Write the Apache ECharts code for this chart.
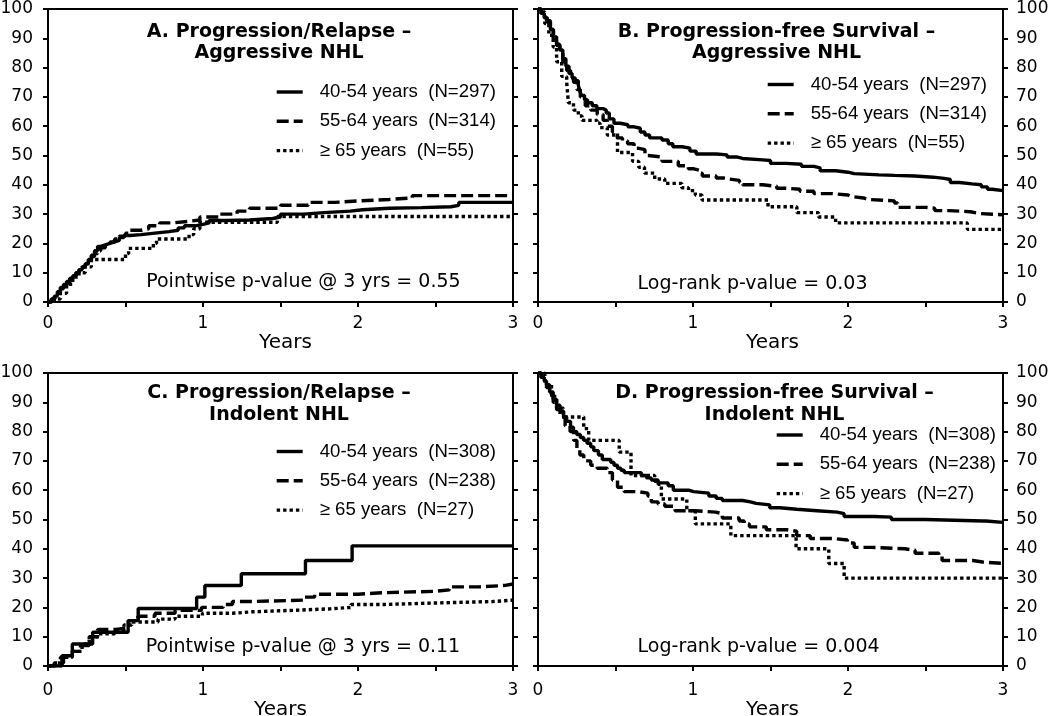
<!DOCTYPE html>
<html>
<head>
<meta charset="utf-8">
<script src="https://cdn.jsdelivr.net/npm/echarts@6/dist/echarts.min.js"></script>
<style>
html,body{margin:0;padding:0;background:#fff;}
#chart{width:1050px;height:716px;}
</style>
</head>
<body>
<div id="chart"></div>
<script>
// ---------- DATA (years, percent) ----------
const aggLabels = ['40-54 years  (N=297)', '55-64 years  (N=314)', '\u2265 65 years  (N=55)'];
const indLabels = ['40-54 years  (N=308)', '55-64 years  (N=238)', '\u2265 65 years  (N=27)'];
const panelTitles = ['A. Progression/Relapse \u2013\nAggressive NHL', 'B. Progression-free Survival \u2013\nAggressive NHL',
                     'C. Progression/Relapse \u2013\nIndolent NHL', 'D. Progression-free Survival \u2013\nIndolent NHL'];
const pValueTexts = ['Pointwise p-value @ 3 yrs = 0.55', 'Log-rank p-value = 0.03',
                     'Pointwise p-value @ 3 yrs = 0.11', 'Log-rank p-value = 0.004'];
const xTicks = [0, 1, 2, 3];

// A. Progression/Relapse - Aggressive NHL
const aggRelapse4054 = [[0,0],[0.02,1],[0.04,2],[0.06,3.5],[0.08,5],[0.10,6],[0.12,7],[0.14,8],[0.16,9],[0.18,10],[0.20,11],[0.22,12],[0.24,13],[0.26,14.5],[0.28,16],[0.30,17.5],[0.32,19],[0.34,19.5],[0.37,20],[0.40,20.5],[0.43,21],[0.46,22],[0.49,22.7],[0.53,23],[0.60,23.5],[0.69,24],[0.78,24.5],[0.84,25.3],[0.88,26],[0.95,26.5],[1.00,27],[1.04,27.8],[1.15,28],[1.30,28.5],[1.45,29],[1.50,30],[1.65,30.5],[1.78,31],[1.95,31.5],[2.03,32],[2.20,32.2],[2.41,32.5],[2.60,33],[2.65,34],[3,34]];
const aggRelapse5564 = [[0,0],[0.02,0.5],[0.04,1.5],[0.06,3],[0.08,4.5],[0.10,5.5],[0.12,6.5],[0.14,8],[0.16,9],[0.18,10],[0.20,11],[0.22,12],[0.24,13],[0.26,14],[0.28,15.5],[0.30,16.5],[0.32,17.5],[0.34,18.5],[0.37,19.5],[0.40,20.5],[0.43,21.5],[0.46,22.5],[0.50,23.5],[0.53,24.5],[0.60,25],[0.65,26],[0.72,27],[0.80,27.5],[0.90,28],[0.98,29],[1.10,30],[1.22,31],[1.30,32],[1.50,33],[1.68,34],[1.85,34.5],[2.00,35],[2.20,35.5],[2.35,36.3],[3,36.3]];
const aggRelapse65 = [[0,0],[0.04,1],[0.08,3],[0.12,6],[0.16,8.5],[0.20,10],[0.24,12],[0.28,14.5],[0.50,16.5],[0.52,18.3],[0.68,20],[0.70,21.5],[0.91,23],[0.94,25],[0.98,27.2],[1.48,29.2],[3,29.2]];

// B. Progression-free Survival - Aggressive NHL
const aggPFS4054 = [[0,100],[0.02,98.5],[0.04,97],[0.06,95.5],[0.08,93],[0.10,90.5],[0.12,88],[0.14,86],[0.16,83],[0.18,80.5],[0.20,78],[0.22,76.5],[0.24,75.5],[0.26,74],[0.27,72],[0.28,70.5],[0.30,69],[0.32,68],[0.35,67],[0.38,66],[0.42,65.5],[0.44,64.5],[0.46,62.5],[0.49,61],[0.53,60.5],[0.58,59.8],[0.62,59.3],[0.66,58],[0.69,57],[0.72,56],[0.80,55.3],[0.84,54],[0.87,53],[0.93,52.5],[0.98,51.5],[1.02,50.5],[1.15,50.2],[1.22,49.5],[1.28,49],[1.32,48.5],[1.45,48.3],[1.50,47.3],[1.60,47],[1.70,46.3],[1.78,45.8],[1.82,44.8],[1.92,44.3],[2.00,43.8],[2.04,43.4],[2.20,43.2],[2.30,43],[2.43,42.6],[2.55,42.2],[2.62,41.8],[2.66,40.8],[2.72,40.3],[2.80,40],[2.86,39.3],[2.90,38.5],[2.93,38],[3,38]];
const aggPFS5564 = [[0,100],[0.02,98.5],[0.04,97],[0.055,96],[0.08,93],[0.098,90],[0.12,87.5],[0.142,85],[0.16,82],[0.185,79],[0.21,76.5],[0.229,75],[0.25,72.5],[0.273,70],[0.305,67],[0.34,65.5],[0.382,64],[0.42,62],[0.447,60],[0.48,58],[0.513,56],[0.545,55],[0.578,54],[0.62,52.5],[0.644,52],[0.69,50],[0.71,49.5],[0.80,48],[0.905,46.5],[0.97,45.5],[1.00,45],[1.04,44],[1.06,43],[1.15,42.3],[1.20,42],[1.23,41.5],[1.30,40.8],[1.32,40],[1.45,39.5],[1.54,38.8],[1.60,38.5],[1.69,37.8],[1.78,37],[1.90,36.5],[2.00,36],[2.02,35.5],[2.10,35],[2.13,34.5],[2.30,33.8],[2.32,32.3],[2.50,32],[2.56,31.2],[2.65,30.8],[2.79,30.2],[2.85,29.8],[3,29.8]];
const aggPFS65 = [[0,100],[0.02,99],[0.044,95],[0.07,91],[0.098,87],[0.12,82],[0.153,77],[0.185,75],[0.196,68],[0.229,65.5],[0.26,63.5],[0.284,62],[0.38,61],[0.40,59.5],[0.447,57],[0.513,51],[0.61,48],[0.65,46],[0.687,44],[0.753,42],[0.818,40.5],[0.927,39],[0.971,38],[1.015,36.5],[1.058,34.8],[1.484,32.5],[1.67,30.5],[1.81,29],[1.92,27],[2.77,24.8],[3,24.8]];

// C. Progression/Relapse - Indolent NHL
const indRelapse4054 = [[0,0],[0.09,3.5],[0.157,7.5],[0.288,11.5],[0.517,15.5],[0.582,19.6],[0.959,23.5],[1.012,27.5],[1.247,31.5],[1.661,36],[1.962,41],[3,41]];
const indRelapse5564 = [[0,0],[0.04,1],[0.10,3],[0.157,5],[0.21,7],[0.266,10],[0.32,12.5],[0.44,13],[0.52,15.5],[0.58,17],[0.69,18],[0.82,19],[0.99,20],[1.13,21],[1.19,22],[1.32,22.5],[1.65,23.5],[1.72,24.5],[2.00,25],[2.15,25.5],[2.50,26],[2.59,27],[2.78,27.5],[2.95,28],[3,28]];
const indRelapse65 = [[0,0],[0.048,1],[0.08,3],[0.157,5],[0.22,7.5],[0.266,10],[0.34,11],[0.43,12],[0.49,14],[0.54,15],[0.71,16],[0.82,17],[0.996,18],[1.19,18.5],[1.32,19],[1.58,19.5],[1.82,20],[1.955,21],[2.17,21.5],[2.50,22],[2.87,22.5],[3,22.5]];

// D. Progression-free Survival - Indolent NHL
const indPFS4054 = [[0,100],[0.02,98.5],[0.04,97.3],[0.055,96],[0.075,93.5],[0.098,91],[0.12,89],[0.142,87],[0.165,85],[0.185,83.5],[0.21,81.5],[0.229,80],[0.25,79],[0.273,78],[0.295,77],[0.316,76],[0.34,74.8],[0.36,73.5],[0.39,72],[0.415,70.5],[0.469,69.5],[0.49,68.5],[0.513,67.5],[0.535,66.8],[0.556,66],[0.666,65],[0.70,64.2],[0.731,63.5],[0.775,62.5],[0.84,61.5],[0.873,60],[0.971,59.5],[1.004,59],[1.102,58],[1.15,57.2],[1.189,56.5],[1.32,56],[1.37,55.5],[1.407,55],[1.495,54],[1.56,53.5],[1.669,53],[1.80,52.5],[1.93,52],[1.975,51],[2.17,50.8],[2.28,50],[2.50,49.5],[2.87,49.5],[2.89,49],[3,49]];
const indPFS5564 = [[0,100],[0.02,98.5],[0.04,96.5],[0.055,95],[0.075,92.5],[0.098,90],[0.12,87.5],[0.142,85],[0.175,82],[0.207,80],[0.23,77],[0.251,74],[0.27,72],[0.295,70],[0.34,68.5],[0.382,67.5],[0.447,66],[0.48,63.5],[0.513,61],[0.556,59.5],[0.644,59],[0.709,58],[0.731,56],[0.775,55.3],[0.818,54.5],[0.884,53],[1.015,52.5],[1.146,52],[1.189,50.5],[1.298,49.5],[1.33,48.5],[1.364,47.5],[1.473,46.5],[1.604,46],[1.669,44.5],[1.756,43.5],[1.909,43],[1.996,42],[2.04,40.5],[2.149,40],[2.367,39.5],[2.433,38.5],[2.586,37.5],[2.607,36],[2.804,35.5],[2.869,35],[3,35]];
const indPFS65 = [[0,100],[0.044,96],[0.087,92],[0.12,88],[0.164,85],[0.295,81],[0.327,77],[0.524,73],[0.60,65],[0.753,63],[0.775,62],[0.796,57],[0.96,53],[1.015,48.5],[1.244,44.5],[1.665,40],[1.876,35],[1.975,30],[3,30]];

// ---------- CHART ----------
const FONT = '"DejaVu Sans", Verdana, sans-serif';
const LFONT = '"Liberation Sans", Arial, sans-serif';
const BLACK = '#000';
const lineTypes = ['solid', [12, 5], [3.4, 3]];

const grids = [
  {left: 48, top: 9, width: 465, height: 293},
  {left: 538, top: 9, width: 465, height: 293},
  {left: 48, top: 373, width: 465, height: 293},
  {left: 538, top: 373, width: 465, height: 293}
];
const yLabelSide = ['left', 'right', 'left', 'right'];
const xLabelMargin = [13, 13, 16, 16];
const xNameGap = [24, 24, 32, 32];
const xNameShift = [10, 4, 0, 4];
const legendPos = [
  {left: 275, top: 82.5},
  {left: 766, top: 75},
  {left: 275, top: 442},
  {left: 775, top: 425.5}
];
const titlePos = [[279, 42.5], [776.5, 42.5], [279, 404.2], [774.5, 404.2]];
const pPos = [[303.4, 281.7, 'center'], [637.6, 284, 'left'], [303, 647.3, 'center'], [637.6, 647.3, 'left']];

const panelData = [
  [aggRelapse4054, aggRelapse5564, aggRelapse65],
  [aggPFS4054, aggPFS5564, aggPFS65],
  [indRelapse4054, indRelapse5564, indRelapse65],
  [indPFS4054, indPFS5564, indPFS65]
];
const panelLabels = [aggLabels, aggLabels, indLabels, indLabels];

const xAxes = [], yAxes = [], series = [], legends = [], graphics = [];
grids.forEach((g, i) => {
  xAxes.push({
    gridIndex: i, type: 'value', min: 0, max: 3, interval: 0.5,
    axisLine: {show: true, onZero: false, lineStyle: {color: BLACK, width: 2}},
    axisTick: {show: true, inside: false, length: 5, lineStyle: {color: BLACK, width: 2}},
    axisLabel: {
      color: BLACK, fontFamily: FONT, fontSize: 17, margin: xLabelMargin[i],
      formatter: v => (xTicks.indexOf(v) >= 0 ? String(v) : ''),
      showMinLabel: true, showMaxLabel: true
    },
    splitLine: {show: false},
    name: 'Years', nameLocation: 'middle', nameGap: xNameGap[i],
    nameTextStyle: {color: BLACK, fontFamily: FONT, fontSize: 20, padding: [0, 0, 0, xNameShift[i]]}
  });
  ['left', 'right'].forEach(pos => {
    yAxes.push({
      gridIndex: i, type: 'value', position: pos, min: 0, max: 100, interval: 10,
      axisLine: {show: true, onZero: false, lineStyle: {color: BLACK, width: 2}},
      axisTick: {show: true, inside: false, length: 5, lineStyle: {color: BLACK, width: 2}},
      axisLabel: {
        show: pos === yLabelSide[i], color: BLACK, fontFamily: FONT, fontSize: 17,
        margin: pos === 'left' ? 15 : 13
      },
      splitLine: {show: false}
    });
  });
  panelData[i].forEach((d, k) => {
    series.push({
      type: 'line', name: panelLabels[i][k], xAxisIndex: i, yAxisIndex: i * 2,
      data: d, step: 'end', symbol: 'none', showSymbol: false, animation: false,
      lineStyle: {color: BLACK, width: 3.4, type: lineTypes[k]},
      itemStyle: {color: BLACK}, z: 3 - k
    });
  });
  legends.push({
    orient: 'vertical', left: legendPos[i].left, top: legendPos[i].top,
    padding: 0, itemWidth: 26, itemHeight: 14, itemGap: 10.3,
    selectedMode: false, data: panelLabels[i],
    itemStyle: {opacity: 0, borderWidth: 0},
    lineStyle: {width: 3.4, type: 'inherit', color: BLACK, opacity: 1},
    textStyle: {color: BLACK, fontFamily: LFONT, fontSize: 18.6, padding: [0, 0, 0, 12]}
  });
  graphics.push({
    type: 'text', x: titlePos[i][0], y: titlePos[i][1], silent: true,
    style: {text: panelTitles[i], fill: BLACK, font: 'bold 19px ' + FONT, align: 'center', verticalAlign: 'middle', lineHeight: 21.6}
  });
  graphics.push({
    type: 'text', x: pPos[i][0], y: pPos[i][1], silent: true,
    style: {text: pValueTexts[i], fill: BLACK, font: '19px ' + FONT, align: pPos[i][2], verticalAlign: 'middle'}
  });
});

const chart = echarts.init(document.getElementById('chart'), null, {renderer: 'canvas'});
chart.setOption({
  animation: false,
  backgroundColor: '#fff',
  grid: grids.map(g => Object.assign({show: true, borderColor: BLACK, borderWidth: 2, backgroundColor: 'transparent',
                                      containLabel: false, outerBoundsMode: 'none'}, g)),
  xAxis: xAxes,
  yAxis: yAxes,
  legend: legends,
  series: series,
  graphic: graphics
});
</script>
</body>
</html>
